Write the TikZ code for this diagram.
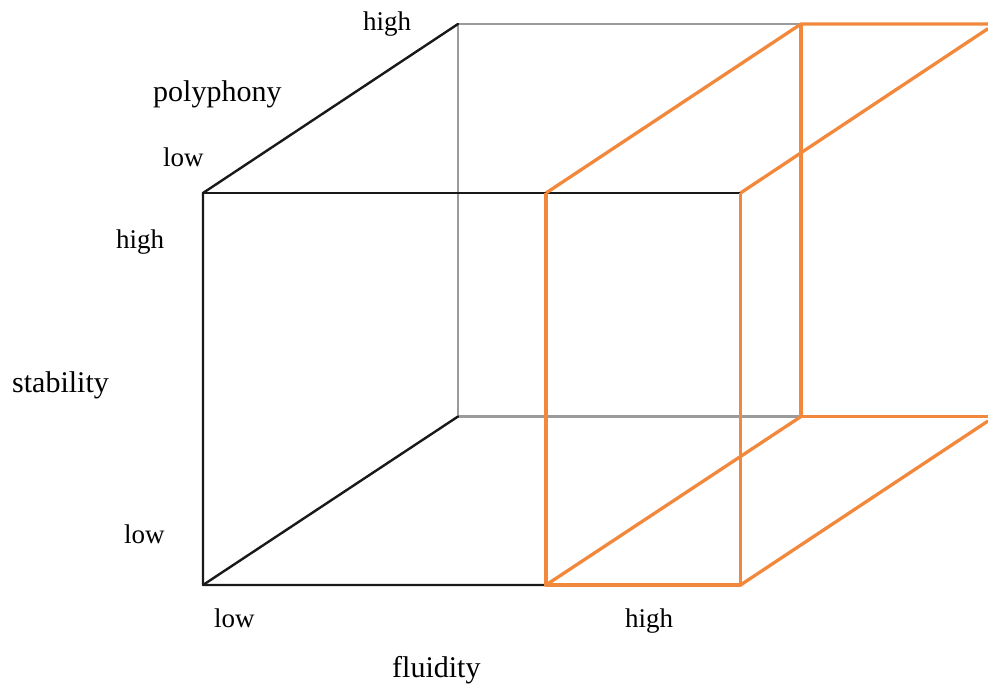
\documentclass[tikz,border=0pt]{standalone}
\usepackage{fontspec}
\setmainfont{Liberation Serif}
\definecolor{cubeorange}{RGB}{241,136,60}
\definecolor{cubegray}{RGB}{155,155,155}
\tikzset{
  blackedge/.style={draw=black!90, line width=2.4pt, line cap=round, line join=round},
  grayedge/.style={draw=cubegray, line width=2.2pt},
  orangeedge/.style={draw=cubeorange, line width=3.3pt, line join=round},
  tick/.style={anchor=base west, inner sep=0pt, font=\fontsize{27}{30}\selectfont},
  axis/.style={anchor=base west, inner sep=0pt, font=\fontsize{30}{34}\selectfont},
}
\begin{document}
\begin{tikzpicture}[x=1pt,y=-1pt]
\useasboundingbox (0,0) rectangle (988,689);
% corners
\coordinate (FTL) at (203,193);
\coordinate (FBL) at (203,585);
\coordinate (BTL) at (458,24);
\coordinate (BBL) at (458,416.5);
\coordinate (OFTL) at (546,193);
\coordinate (OFBL) at (546,585);
\coordinate (OFTR) at (740.5,193);
\coordinate (OFBR) at (740.5,585);
\coordinate (OBTL) at (801,24);
\coordinate (OBBL) at (801,416.5);
\coordinate (EdgeT) at (988,24);
\coordinate (EdgeB) at (988,416.5);
\coordinate (EdgeDT) at (988,28.6);
\coordinate (EdgeDB) at (988,421);
% gray back edges
\draw[grayedge] (BTL) -- (OBTL);
\draw[grayedge] (BTL) -- (BBL);
\draw[grayedge] (BBL) -- (OBBL);
% black edges
\draw[blackedge] (BTL) -- (FTL) -- (FBL) -- (OFBL);
\draw[blackedge] (FTL) -- (OFTR);
\draw[blackedge] (FBL) -- (BBL);
% orange
\draw[orangeedge] (OFTL) -- (OFBL) -- (OFBR) -- (OFTR);
\draw[orangeedge] (OFTL) -- (OBTL) -- (EdgeT);
\draw[orangeedge] (OBTL) -- (OBBL) -- (EdgeB);
\draw[orangeedge] (OFBL) -- (OBBL);
\draw[orangeedge] (OFTR) -- (EdgeDT);
\draw[orangeedge] (OFBR) -- (EdgeDB);
% labels
\node[tick] (phigh) at (363,30) {high};
\node[axis] (poly) at (153,101.5) {polyphony};
\node[tick] (plow) at (163,166) {low};
\node[tick] (shigh) at (116,248) {high};
\node[axis] (stab) at (12,392) {stability};
\node[tick] (slow) at (124,543) {low};
\node[tick] (flow) at (214,627) {low};
\node[tick] (fhigh) at (625,627) {high};
\node[axis] (flu) at (392,677) {fluidity};
\end{tikzpicture}
\end{document}
